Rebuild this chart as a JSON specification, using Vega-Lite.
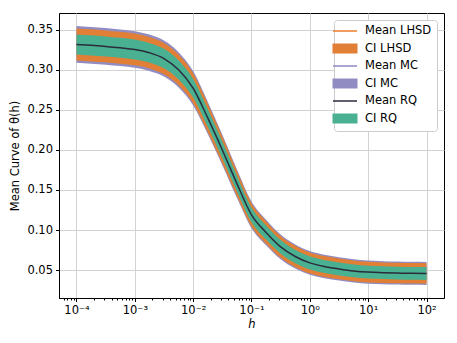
{
  "$schema": "https://vega.github.io/schema/vega-lite/v6.json",
  "autosize": "none",
  "width": 385,
  "height": 285,
  "padding": {"left": 59, "top": 13, "right": 13, "bottom": 45},
  "background": "white",
  "config": {
    "font": "DejaVu Sans",
    "view": {"stroke": "#000000", "strokeWidth": 1},
    "axis": {
      "labelFont": "DejaVu Sans", "labelFontSize": 11.5, "labelColor": "#000000",
      "titleFont": "DejaVu Sans", "titleFontSize": 11.5, "titleFontWeight": "normal", "titleColor": "#000000",
      "tickColor": "#000000", "domainColor": "#000000", "tickSize": 3.5, "labelPadding": 3,
      "gridColor": "#d3d3d3", "gridWidth": 1
    }
  },
  "resolve": {"axis": {"x": "independent"}},
  "data": {"values": [
    {"h": 0.0001, "mean": 0.3317, "rq_lo": 0.3192, "rq_hi": 0.3442, "lh_lo": 0.3117, "lh_hi": 0.3517, "mc_lo": 0.3087, "mc_hi": 0.3547},
    {"h": 0.000177828, "mean": 0.3305, "rq_lo": 0.3180, "rq_hi": 0.3430, "lh_lo": 0.3105, "lh_hi": 0.3505, "mc_lo": 0.3075, "mc_hi": 0.3535},
    {"h": 0.000316228, "mean": 0.3292, "rq_lo": 0.3167, "rq_hi": 0.3417, "lh_lo": 0.3093, "lh_hi": 0.3491, "mc_lo": 0.3063, "mc_hi": 0.3521},
    {"h": 0.000562341, "mean": 0.3275, "rq_lo": 0.3151, "rq_hi": 0.3399, "lh_lo": 0.3076, "lh_hi": 0.3474, "mc_lo": 0.3046, "mc_hi": 0.3504},
    {"h": 0.001, "mean": 0.3254, "rq_lo": 0.3130, "rq_hi": 0.3378, "lh_lo": 0.3056, "lh_hi": 0.3452, "mc_lo": 0.3026, "mc_hi": 0.3482},
    {"h": 0.00177828, "mean": 0.3213, "rq_lo": 0.3090, "rq_hi": 0.3336, "lh_lo": 0.3016, "lh_hi": 0.3410, "mc_lo": 0.2986, "mc_hi": 0.3440},
    {"h": 0.00316228, "mean": 0.3140, "rq_lo": 0.3018, "rq_hi": 0.3262, "lh_lo": 0.2944, "lh_hi": 0.3336, "mc_lo": 0.2915, "mc_hi": 0.3365},
    {"h": 0.00562341, "mean": 0.3000, "rq_lo": 0.2880, "rq_hi": 0.3120, "lh_lo": 0.2808, "lh_hi": 0.3192, "mc_lo": 0.2780, "mc_hi": 0.3220},
    {"h": 0.01, "mean": 0.2770, "rq_lo": 0.2654, "rq_hi": 0.2886, "lh_lo": 0.2584, "lh_hi": 0.2956, "mc_lo": 0.2556, "mc_hi": 0.2984},
    {"h": 0.0177828, "mean": 0.2400, "rq_lo": 0.2289, "rq_hi": 0.2511, "lh_lo": 0.2223, "lh_hi": 0.2577, "mc_lo": 0.2198, "mc_hi": 0.2602},
    {"h": 0.0316228, "mean": 0.2000, "rq_lo": 0.1896, "rq_hi": 0.2104, "lh_lo": 0.1833, "lh_hi": 0.2167, "mc_lo": 0.1810, "mc_hi": 0.2190},
    {"h": 0.0562341, "mean": 0.1580, "rq_lo": 0.1482, "rq_hi": 0.1678, "lh_lo": 0.1424, "lh_hi": 0.1736, "mc_lo": 0.1402, "mc_hi": 0.1758},
    {"h": 0.1, "mean": 0.1190, "rq_lo": 0.1098, "rq_hi": 0.1282, "lh_lo": 0.1044, "lh_hi": 0.1336, "mc_lo": 0.1024, "mc_hi": 0.1356},
    {"h": 0.177828, "mean": 0.0970, "rq_lo": 0.0882, "rq_hi": 0.1058, "lh_lo": 0.0829, "lh_hi": 0.1111, "mc_lo": 0.0811, "mc_hi": 0.1129},
    {"h": 0.316228, "mean": 0.0790, "rq_lo": 0.0705, "rq_hi": 0.0875, "lh_lo": 0.0654, "lh_hi": 0.0926, "mc_lo": 0.0636, "mc_hi": 0.0944},
    {"h": 0.562341, "mean": 0.0670, "rq_lo": 0.0587, "rq_hi": 0.0753, "lh_lo": 0.0537, "lh_hi": 0.0803, "mc_lo": 0.0520, "mc_hi": 0.0820},
    {"h": 1, "mean": 0.0590, "rq_lo": 0.0508, "rq_hi": 0.0672, "lh_lo": 0.0459, "lh_hi": 0.0721, "mc_lo": 0.0442, "mc_hi": 0.0738},
    {"h": 1.77828, "mean": 0.0545, "rq_lo": 0.0464, "rq_hi": 0.0626, "lh_lo": 0.0415, "lh_hi": 0.0675, "mc_lo": 0.0398, "mc_hi": 0.0692},
    {"h": 3.16228, "mean": 0.0515, "rq_lo": 0.0434, "rq_hi": 0.0596, "lh_lo": 0.0386, "lh_hi": 0.0644, "mc_lo": 0.0369, "mc_hi": 0.0661},
    {"h": 5.62341, "mean": 0.0490, "rq_lo": 0.0410, "rq_hi": 0.0570, "lh_lo": 0.0361, "lh_hi": 0.0619, "mc_lo": 0.0345, "mc_hi": 0.0635},
    {"h": 10, "mean": 0.0475, "rq_lo": 0.0395, "rq_hi": 0.0555, "lh_lo": 0.0347, "lh_hi": 0.0603, "mc_lo": 0.0330, "mc_hi": 0.0620},
    {"h": 17.7828, "mean": 0.0468, "rq_lo": 0.0388, "rq_hi": 0.0548, "lh_lo": 0.0340, "lh_hi": 0.0596, "mc_lo": 0.0324, "mc_hi": 0.0612},
    {"h": 31.6228, "mean": 0.0463, "rq_lo": 0.0383, "rq_hi": 0.0543, "lh_lo": 0.0335, "lh_hi": 0.0591, "mc_lo": 0.0319, "mc_hi": 0.0607},
    {"h": 56.2341, "mean": 0.0460, "rq_lo": 0.0380, "rq_hi": 0.0540, "lh_lo": 0.0332, "lh_hi": 0.0588, "mc_lo": 0.0316, "mc_hi": 0.0604},
    {"h": 100, "mean": 0.0458, "rq_lo": 0.0378, "rq_hi": 0.0538, "lh_lo": 0.0330, "lh_hi": 0.0586, "mc_lo": 0.0314, "mc_hi": 0.0602}
  ]},
  "layer": [
    {
      "mark": {"type": "area", "interpolate": "monotone"},
      "encoding": {
        "x": {"field": "h", "type": "quantitative",
          "scale": {"type": "log", "domain": [0.000050119, 199.526], "nice": false},
          "axis": {"title": "h", "titleFontStyle": "italic", "titlePadding": 2, "orient": "bottom",
            "values": [0.0001, 0.001, 0.01, 0.1, 1, 10, 100],
            "labelExpr": "['10⁻⁴','10⁻³','10⁻²','10⁻¹','10⁰','10¹','10²'][round(log(datum.value)/LN10)+4]",
            "grid": true, "labelFlush": false, "labelOverlap": false}},
        "y": {"field": "mc_lo", "type": "quantitative", "scale": {"domain": [0.0152, 0.3709], "nice": false, "zero": false},
          "axis": {"title": "Mean Curve of θ(h)", "values": [0.05, 0.10, 0.15, 0.20, 0.25, 0.30, 0.35], "format": ".2f", "titlePadding": 6}},
        "y2": {"field": "mc_hi"},
        "color": {
          "datum": "CI MC", "type": "nominal",
          "scale": {
            "domain": ["Mean LHSD", "CI LHSD", "Mean MC", "CI MC", "Mean RQ", "CI RQ"],
            "range": ["#ea7d2e", "#e07f35", "#8f8ac4", "#918dc2", "#2b2b3b", "#49b192"]
          },
          "legend": {
            "title": null, "orient": "top-right", "offset": 7, "padding": 5,
            "fillColor": "#ffffff", "strokeColor": "#cccccc", "cornerRadius": 3,
            "labelFont": "DejaVu Sans", "labelFontSize": 11.5, "labelColor": "#000000",
            "symbolSize": 100, "rowPadding": 3.5, "labelOffset": 14,
            "encode": {
              "symbols": {
                "update": {
                  "shape": {"signal": "substring(datum.label, 0, 2) == 'CI' ? 'M-2.35,-0.85L2.35,-0.85L2.35,0.85L-2.35,0.85Z' : 'M-2.4,0L2.4,0'"},
                  "fill": {"scale": "color", "field": "value"},
                  "stroke": {"scale": "color", "field": "value"},
                  "strokeWidth": {"value": 1.5}
                }
              }
            }
          }
        }
      }
    },
    {
      "mark": {"type": "area", "interpolate": "monotone"},
      "encoding": {
        "x": {"field": "h", "type": "quantitative", "axis": null},
        "y": {"field": "lh_lo", "type": "quantitative", "scale": {"domain": [0.0152, 0.3709], "nice": false, "zero": false},
          "axis": {"title": "Mean Curve of θ(h)", "values": [0.05, 0.10, 0.15, 0.20, 0.25, 0.30, 0.35], "format": ".2f", "titlePadding": 6}},
        "y2": {"field": "lh_hi"},
        "color": {"datum": "CI LHSD", "type": "nominal"}
      }
    },
    {
      "mark": {"type": "line", "interpolate": "monotone", "strokeWidth": 1.5},
      "encoding": {
        "x": {"field": "h", "type": "quantitative", "axis": null},
        "y": {"field": "mean", "type": "quantitative", "scale": {"domain": [0.0152, 0.3709], "nice": false, "zero": false},
          "axis": {"title": "Mean Curve of θ(h)", "values": [0.05, 0.10, 0.15, 0.20, 0.25, 0.30, 0.35], "format": ".2f", "titlePadding": 6}},
        "color": {"datum": "Mean LHSD", "type": "nominal"}
      }
    },
    {
      "mark": {"type": "line", "interpolate": "monotone", "strokeWidth": 1.5},
      "encoding": {
        "x": {"field": "h", "type": "quantitative", "axis": null},
        "y": {"field": "mean", "type": "quantitative", "scale": {"domain": [0.0152, 0.3709], "nice": false, "zero": false},
          "axis": {"title": "Mean Curve of θ(h)", "values": [0.05, 0.10, 0.15, 0.20, 0.25, 0.30, 0.35], "format": ".2f", "titlePadding": 6}},
        "color": {"datum": "Mean MC", "type": "nominal"}
      }
    },
    {
      "mark": {"type": "area", "interpolate": "monotone"},
      "encoding": {
        "x": {"field": "h", "type": "quantitative", "axis": null},
        "y": {"field": "rq_lo", "type": "quantitative", "scale": {"domain": [0.0152, 0.3709], "nice": false, "zero": false},
          "axis": {"title": "Mean Curve of θ(h)", "values": [0.05, 0.10, 0.15, 0.20, 0.25, 0.30, 0.35], "format": ".2f", "titlePadding": 6}},
        "y2": {"field": "rq_hi"},
        "color": {"datum": "CI RQ", "type": "nominal"}
      }
    },
    {
      "mark": {"type": "line", "interpolate": "monotone", "strokeWidth": 1.5},
      "encoding": {
        "x": {"field": "h", "type": "quantitative",
          "axis": {"orient": "bottom", "title": null, "labels": false, "grid": false, "domain": false, "tickSize": 2,
            "values": [0.00006, 0.00007, 0.00008, 0.00009,
              0.0002, 0.0003, 0.0004, 0.0005, 0.0006, 0.0007, 0.0008, 0.0009,
              0.002, 0.003, 0.004, 0.005, 0.006, 0.007, 0.008, 0.009,
              0.02, 0.03, 0.04, 0.05, 0.06, 0.07, 0.08, 0.09,
              0.2, 0.3, 0.4, 0.5, 0.6, 0.7, 0.8, 0.9,
              2, 3, 4, 5, 6, 7, 8, 9,
              20, 30, 40, 50, 60, 70, 80, 90]}},
        "y": {"field": "mean", "type": "quantitative", "scale": {"domain": [0.0152, 0.3709], "nice": false, "zero": false},
          "axis": {"title": "Mean Curve of θ(h)", "values": [0.05, 0.10, 0.15, 0.20, 0.25, 0.30, 0.35], "format": ".2f", "titlePadding": 6}},
        "color": {"datum": "Mean RQ", "type": "nominal"}
      }
    }
  ]
}
